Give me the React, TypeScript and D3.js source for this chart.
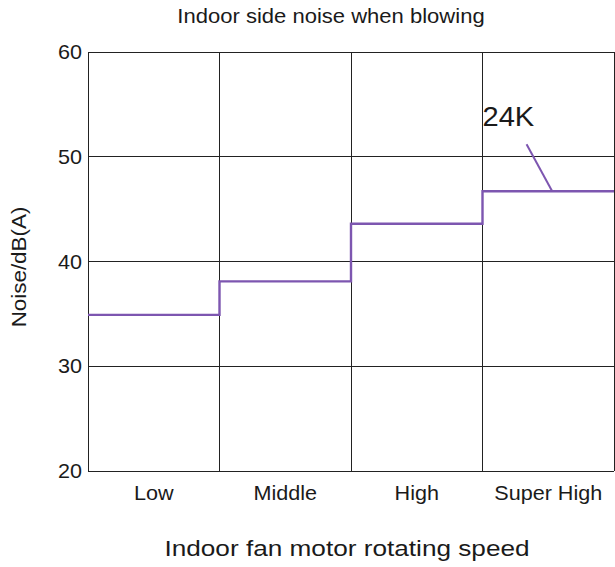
import React from "react";
import * as d3 from "d3";

const categories = ["Low", "Middle", "High", "Super High"];
const noiseValues = [34.9, 38.1, 43.6, 46.7];
const yTicks = [20, 30, 40, 50, 60];
const seriesLabel = "24K";
const labelAnchorValue = 52.9;
const leaderStartValue = 51.2;

const W = 615;
const H = 567;
const FONT = "'Liberation Sans', Arial, Helvetica, sans-serif";

function SText({ x, y, size, sx = 1.1, anchor = "middle", rotate = 0, children }: any) {
  return (
    <g transform={`translate(${x},${y}) rotate(${rotate}) scale(${sx},1)`}>
      <text x={0} y={0} fontSize={size} textAnchor={anchor} fill="#1a1a1a" fontFamily={FONT}>
        {children}
      </text>
    </g>
  );
}

export default function App() {
  const x = d3.scaleBand<string>().domain(categories).range([88, 614]).paddingInner(0).paddingOuter(0);
  const y = d3.scaleLinear().domain([20, 60]).range([471, 52]);
  const bw = x.bandwidth();
  const [x0, x1] = x.range();

  const pts: [number, number][] = categories.map((c, i) => [x(c)!, y(noiseValues[i])]);
  pts.push([x1, y(noiseValues[noiseValues.length - 1])]);
  const stepLine = d3.line().curve(d3.curveStepAfter)(pts) || "";

  const lastCat = categories[categories.length - 1];
  const lastVal = noiseValues[noiseValues.length - 1];
  const lx = x(lastCat)!;

  const vEdges = [...categories.map((c) => x(c)!), x1];

  return (
    <div style={{ position: "absolute", left: 0, top: 0 }}>
      <svg width={W} height={H} style={{ display: "block", background: "#fff" }}>
        <g stroke="#222" strokeWidth={1} shapeRendering="crispEdges">
          {yTicks.map((t) => (
            <line key={"h" + t} x1={x0} x2={x1} y1={y(t)} y2={y(t)} />
          ))}
          {vEdges.map((v, i) => (
            <line key={"v" + i} x1={v} x2={v} y1={y(60)} y2={y(20)} />
          ))}
        </g>

        <path d={stepLine} fill="none" stroke="#7d56b0" strokeWidth={2.4} />

        <line
          x1={lx + 0.335 * bw}
          y1={y(leaderStartValue)}
          x2={lx + 0.53 * bw}
          y2={y(lastVal)}
          stroke="#7d56b0"
          strokeWidth={2}
        />
        <SText x={lx} y={y(labelAnchorValue)} size={28} sx={1.04} anchor="start">
          {seriesLabel}
        </SText>

        {yTicks.map((t) => (
          <SText key={"yt" + t} x={82} y={y(t) + 7} size={20} sx={1.08} anchor="end">
            {t}
          </SText>
        ))}

        {categories.map((c) => (
          <SText key={"xt" + c} x={x(c)! + bw / 2} y={500} size={20} sx={1.08}>
            {c}
          </SText>
        ))}

        <SText x={331} y={23} size={19.5} sx={1.13}>
          Indoor side noise when blowing
        </SText>
        <SText x={347} y={556} size={22} sx={1.19}>
          Indoor fan motor rotating speed
        </SText>
        <SText x={26} y={267} size={20} sx={1.12} rotate={-90}>
          Noise/dB(A)
        </SText>
      </svg>
    </div>
  );
}
